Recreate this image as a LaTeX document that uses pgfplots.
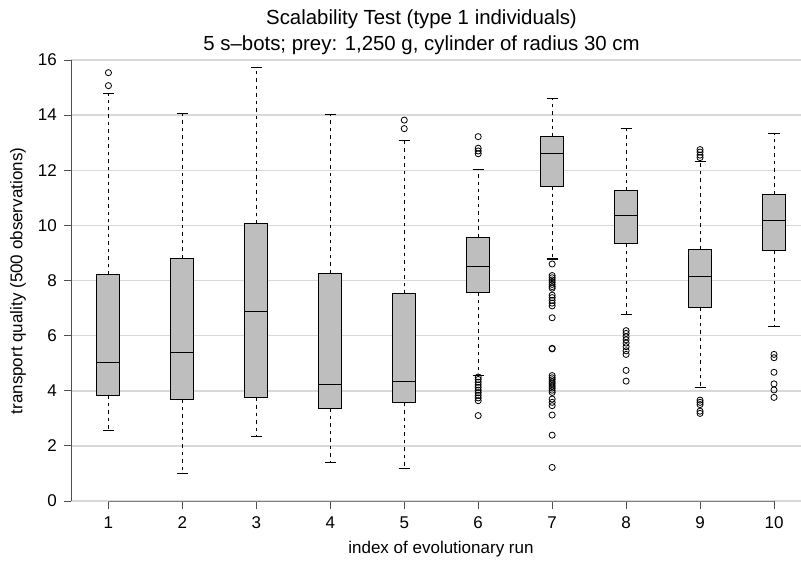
\documentclass[border=0pt]{standalone}
\usepackage{fontspec}
\setmainfont{Liberation Sans}
\usepackage{pgfplots}
\pgfplotsset{compat=1.18}
\usepgfplotslibrary{statistics}

\definecolor{boxgray}{HTML}{BEBEBE}
\definecolor{gridgray}{HTML}{D9D9D9}
\definecolor{axisgray}{HTML}{505050}

\pgfplotsset{
  rbox/.style={
    draw=black, fill=boxgray, line width=0.75pt, solid,
    mark=o, mark size=2.3pt, mark options={solid, draw=black, line width=0.6pt},
    boxplot/draw direction=y,
    boxplot/box extend=0.31,
    boxplot/whisker extend=0.15,
    boxplot/draw/lower whisker/.code={%
      \draw[dash pattern=on 2.6pt off 3pt, line width=0.7pt]
        (boxplot box cs:\pgfplotsboxplotvalue{lower quartile},0.5) --
        (boxplot box cs:\pgfplotsboxplotvalue{lower whisker},0.5);
      \draw[solid, line width=0.8pt]
        (boxplot whisker cs:\pgfplotsboxplotvalue{lower whisker},0) --
        (boxplot whisker cs:\pgfplotsboxplotvalue{lower whisker},1);
    },
    boxplot/draw/upper whisker/.code={%
      \draw[dash pattern=on 2.6pt off 3pt, line width=0.7pt]
        (boxplot box cs:\pgfplotsboxplotvalue{upper quartile},0.5) --
        (boxplot box cs:\pgfplotsboxplotvalue{upper whisker},0.5);
      \draw[solid, line width=0.8pt]
        (boxplot whisker cs:\pgfplotsboxplotvalue{upper whisker},0) --
        (boxplot whisker cs:\pgfplotsboxplotvalue{upper whisker},1);
    },
  },
}

\begin{document}
\fontsize{12.75pt}{15pt}\selectfont
\begin{tikzpicture}
\begin{axis}[
  at={(0,0)}, anchor=south west,
  scale only axis, width=547.1pt, height=330.75pt,
  xmin=0.5, xmax=10.365, ymin=0, ymax=16,
  axis x line*=bottom, axis y line*=left,
  axis line style={draw=none},
  clip=false,
  xtick={1,...,10}, ytick={0,2,...,16},
  tick align=outside, major tick length=5.6pt,
  tick style={axisgray, line width=0.7pt},
  ymajorgrids, major grid style={gridgray, line width=1.1pt},
  /pgf/number format/assume math mode=true,
  ticklabel style={font=\fontsize{12.75pt}{15pt}\selectfont},
  xticklabel style={yshift=-2pt},
  yticklabel style={xshift=-1pt},
]
% axis lines as R draws them
\draw[axisgray, line width=0.8pt] (axis cs:0.5,0) -- (axis cs:0.5,16);
\draw[gray, line width=0.8pt] (axis cs:1,0) -- (axis cs:10,0);

\addplot[rbox, boxplot prepared={draw position=1,
  lower whisker=2.57, lower quartile=3.83, median=5.03,
  upper quartile=8.21, upper whisker=14.78}]
  coordinates {(0,15.54) (0,15.07)};
\addplot[rbox, boxplot prepared={draw position=2,
  lower whisker=1.00, lower quartile=3.69, median=5.40,
  upper quartile=8.81, upper whisker=14.07}]
  coordinates {};
\addplot[rbox, boxplot prepared={draw position=3,
  lower whisker=2.33, lower quartile=3.75, median=6.88,
  upper quartile=10.06, upper whisker=15.74}]
  coordinates {};
\addplot[rbox, boxplot prepared={draw position=4,
  lower whisker=1.40, lower quartile=3.36, median=4.21,
  upper quartile=8.27, upper whisker=14.03}]
  coordinates {};
\addplot[rbox, boxplot prepared={draw position=5,
  lower whisker=1.19, lower quartile=3.57, median=4.33,
  upper quartile=7.53, upper whisker=13.07}]
  coordinates {(0,13.82) (0,13.51)};
\addplot[rbox, boxplot prepared={draw position=6,
  lower whisker=4.57, lower quartile=7.58, median=8.52,
  upper quartile=9.57, upper whisker=12.04}]
  coordinates {(0,13.22) (0,12.80) (0,12.70) (0,12.60)
    (0,4.50) (0,4.41) (0,4.31) (0,4.21) (0,4.12) (0,4.02)
    (0,3.93) (0,3.83) (0,3.74) (0,3.64) (0,3.10)};
\addplot[rbox, boxplot prepared={draw position=7,
  lower whisker=8.78, lower quartile=11.41, median=12.59,
  upper quartile=13.21, upper whisker=14.61}]
  coordinates {(0,8.60) (0,8.18) (0,8.10) (0,8.02) (0,7.94) (0,7.86)
    (0,7.78) (0,7.72) (0,7.47) (0,7.38) (0,7.28) (0,7.18) (0,7.08)
    (0,6.65) (0,5.54) (0,5.52) (0,4.55) (0,4.47) (0,4.40) (0,4.32)
    (0,4.25) (0,4.17) (0,4.10) (0,4.02) (0,3.94) (0,3.70) (0,3.58)
    (0,3.46) (0,3.12) (0,2.39) (0,1.22)};
\addplot[rbox, boxplot prepared={draw position=8,
  lower whisker=6.76, lower quartile=9.35, median=10.35,
  upper quartile=11.25, upper whisker=13.51}]
  coordinates {(0,6.18) (0,6.08) (0,5.96) (0,5.85) (0,5.73) (0,5.60)
    (0,5.45) (0,5.32) (0,4.74) (0,4.35)};
\addplot[rbox, boxplot prepared={draw position=9,
  lower whisker=4.11, lower quartile=7.01, median=8.13,
  upper quartile=9.14, upper whisker=12.31}]
  coordinates {(0,12.75) (0,12.66) (0,12.55) (0,12.46)
    (0,3.66) (0,3.58) (0,3.50) (0,3.26) (0,3.18)};
\addplot[rbox, boxplot prepared={draw position=10,
  lower whisker=6.33, lower quartile=9.08, median=10.16,
  upper quartile=11.13, upper whisker=13.32}]
  coordinates {(0,5.32) (0,5.20) (0,4.67) (0,4.25) (0,4.03) (0,3.76)};
\end{axis}

% titles and axis labels
\node[anchor=base, font=\fontsize{15.3pt}{18pt}\selectfont] at (262.5pt,357pt)
  {Scalability Test (type 1 individuals)};
\node[anchor=base, font=\fontsize{15.3pt}{18pt}\selectfont] at (262.5pt,338.2pt)
  {5 s–bots; prey: 1,250 g, cylinder of radius 30 cm};
\node at (277.1pt,-36pt) {index of evolutionary run};
\node[rotate=90] at (-40.1pt,165pt) {transport quality (500 observations)};

\pgfresetboundingbox
\path[use as bounding box] (-53.6pt,-46.5pt) rectangle (547.1pt,375.75pt);
\end{tikzpicture}
\end{document}
